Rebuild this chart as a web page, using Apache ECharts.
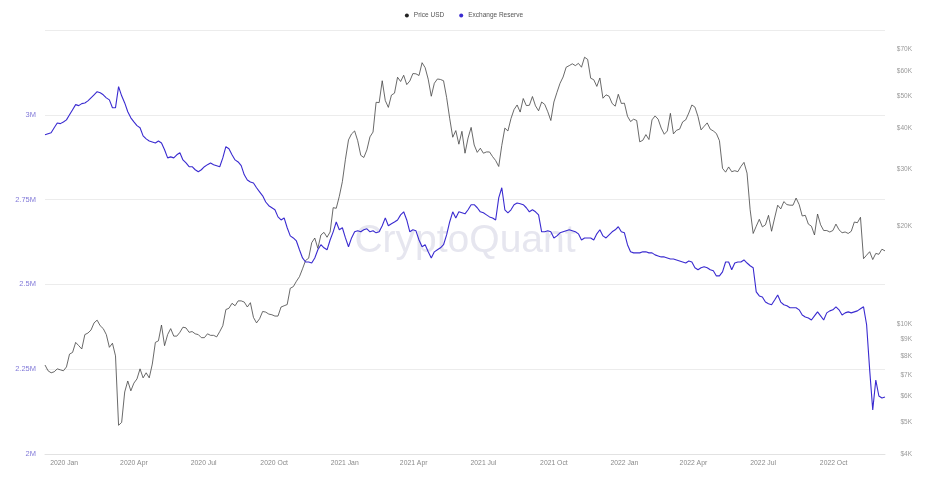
<!DOCTYPE html>
<html><head><meta charset="utf-8">
<script src="https://cdn.jsdelivr.net/npm/echarts@6/dist/echarts.min.js"></script>
<style>html,body{margin:0;padding:0;background:#fff}#c{width:928px;height:487px}</style>
</head><body><div id="c"></div>
<script>
// sampling: one value every 4 days starting 2019-12-07
const startDate = Date.UTC(2019, 11, 7);
const stepDays = 4;

// BTC price, thousands of USD
const priceUSDk = [
7.5,7.2,7.1,7.15,7.3,7.25,7.2,7.4,8.1,8.2,8.8,8.6,8.4,9.3,9.4,9.6,10.1,10.3,9.9,9.7,
9.3,8.5,8.75,8.0,4.9,5.0,6.2,6.7,6.25,6.6,6.8,7.3,6.85,7.1,6.85,7.55,8.8,8.9,9.95,8.6,
9.3,9.7,9.2,9.2,9.45,9.8,9.75,9.45,9.5,9.35,9.3,9.1,9.1,9.35,9.25,9.25,9.15,9.5,9.9,11.1,
11.2,11.6,11.4,11.8,11.8,11.7,11.3,11.65,10.5,10.1,10.4,10.95,10.9,10.75,10.7,10.6,10.6,11.3,11.4,11.5,
12.9,13.05,13.55,14.0,14.8,15.7,15.95,17.8,18.4,17.1,18.8,19.15,18.5,19.2,22.8,22.7,24.7,27.4,32.1,36.8,
38.4,39.2,36.6,33.0,32.5,34.3,37.6,38.9,48.0,47.9,55.9,48.6,46.3,50.5,51.2,57.3,55.6,58.1,54.4,55.8,
58.8,58.7,58.0,63.5,61.3,56.5,50.1,54.9,56.6,56.4,55.9,49.7,42.9,37.5,39.3,35.7,39.1,33.5,37.3,40.2,
35.5,33.7,34.7,33.5,33.8,33.8,32.7,31.8,30.5,35.4,40.0,39.2,42.8,45.6,47.1,44.8,49.3,46.9,47.0,50.0,
46.8,45.2,48.1,47.3,44.9,42.2,48.1,51.5,54.9,57.4,61.5,62.2,63.0,62.2,63.2,61.5,66.0,65.0,56.9,56.3,
53.7,57.0,49.4,50.6,50.1,47.6,46.7,50.8,47.6,47.7,43.5,41.9,42.6,42.2,36.3,36.7,38.2,36.9,42.4,43.6,
42.6,40.0,38.3,39.2,44.4,38.4,39.4,39.7,41.8,42.4,44.5,47.1,46.4,43.4,39.5,40.5,41.5,39.7,39.2,38.5,
36.6,30.1,29.3,30.4,29.4,29.6,29.4,30.5,31.4,29.1,22.5,19.0,20.0,21.0,19.9,20.2,21.6,19.3,21.2,23.2,
22.6,23.8,23.3,23.2,23.2,24.4,23.3,21.5,21.6,20.3,20.0,18.8,21.8,20.2,19.4,19.4,19.2,19.4,20.3,19.5,
19.1,19.2,19.0,19.3,20.6,20.5,21.3,15.9,16.3,16.7,15.8,16.5,16.4,17.0,16.8
];

// Exchange reserve, thousands of BTC
const reserveKBTC = [
2941,2944,2947,2962,2976,2974,2979,2985,3000,3015,3030,3027,3033,3035,3041,3050,3059,3068,3065,3059,
3050,3044,3021,3021,3083,3056,3035,3009,2991,2979,2968,2962,2938,2929,2923,2920,2917,2923,2917,2897,
2873,2876,2873,2882,2888,2867,2858,2847,2847,2838,2832,2838,2847,2853,2858,2853,2850,2847,2873,2906,
2900,2882,2867,2861,2850,2823,2808,2802,2799,2785,2773,2761,2743,2732,2726,2720,2699,2690,2696,2667,
2643,2637,2628,2602,2578,2566,2566,2563,2578,2602,2617,2608,2602,2631,2655,2684,2661,2667,2637,2611,
2637,2655,2658,2655,2661,2664,2655,2658,2652,2655,2673,2696,2673,2679,2684,2690,2705,2714,2690,2655,
2661,2658,2631,2611,2617,2596,2578,2596,2602,2608,2617,2646,2684,2714,2696,2714,2711,2708,2720,2735,
2735,2726,2714,2711,2705,2699,2696,2690,2755,2785,2720,2711,2720,2735,2740,2738,2735,2726,2714,2720,
2714,2705,2655,2655,2658,2655,2637,2643,2652,2655,2658,2661,2658,2655,2649,2631,2637,2637,2637,2631,
2649,2661,2643,2637,2646,2655,2661,2670,2655,2652,2617,2596,2593,2593,2593,2596,2596,2593,2593,2587,
2584,2581,2581,2578,2575,2575,2572,2569,2566,2563,2569,2566,2549,2543,2549,2552,2549,2543,2540,2525,
2525,2537,2566,2566,2543,2563,2566,2566,2572,2563,2555,2549,2478,2466,2463,2448,2443,2440,2454,2469,
2448,2440,2437,2431,2431,2431,2425,2410,2404,2401,2395,2407,2419,2407,2395,2416,2422,2425,2434,2425,
2410,2416,2419,2416,2419,2422,2428,2434,2381,2248,2130,2218,2171,2165,2168
];

const quarterTicks = ['2020-01-01','2020-04-01','2020-07-01','2020-10-01','2021-01-01','2021-04-01',
  '2021-07-01','2021-10-01','2022-01-01','2022-04-01','2022-07-01','2022-10-01'];
const priceTicks = [4000,5000,6000,7000,8000,9000,10000,20000,30000,40000,50000,60000,70000];
const monthNames = ['Jan','Feb','Mar','Apr','May','Jun','Jul','Aug','Sep','Oct','Nov','Dec'];

const DAY = 86400000;
const tAt = i => startDate + i * stepDays * DAY;
const priceData = priceUSDk.map((v, i) => [tAt(i), v * 1000]);
const reserveData = reserveKBTC.map((v, i) => [tAt(i), v]);
const tickTimes = quarterTicks.map(s => Date.parse(s + 'T00:00:00Z'));

const FONT = 'Liberation Sans, Arial, Helvetica, sans-serif';
const chart = echarts.init(document.getElementById('c'), null, {renderer: 'canvas'});
chart.setOption({
  animation: false,
  backgroundColor: '#fff',
  textStyle: {fontFamily: FONT},
  legend: {
    top: 7, left: 'center', icon: 'circle', itemWidth: 4, itemHeight: 4, itemGap: 15,
    textStyle: {fontSize: 6.5, color: '#555', fontFamily: FONT},
    data: [{name: 'Price USD', itemStyle: {color: '#222'}}, {name: 'Exchange Reserve', itemStyle: {color: '#3a2bd0'}}]
  },
  graphic: [{
    type: 'text', x: 465, y: 241, z: -10, silent: true,
    style: {text: 'CryptoQuant', fontSize: 39, fontFamily: FONT, fill: '#e6e6ef', align: 'center', verticalAlign: 'middle'}
  }],
  grid: {left: 45, right: 43, top: 30, bottom: 33, containLabel: false},
  xAxis: {
    type: 'value', min: tAt(0), max: tAt(priceUSDk.length - 1),
    axisLine: {show: true, lineStyle: {color: '#e2e2e2'}},
    axisTick: {show: false},
    splitLine: {show: false},
    axisLabel: {
      customValues: tickTimes, color: '#8a8a8a', fontSize: 6.8, margin: 6, fontFamily: FONT,
      formatter: v => { const d = new Date(v); return d.getUTCFullYear() + ' ' + monthNames[d.getUTCMonth()]; }
    }
  },
  yAxis: [{
    type: 'value', position: 'left', min: 2000, max: 3250, interval: 250,
    axisLine: {show: false}, axisTick: {show: false},
    splitLine: {show: true, lineStyle: {color: '#ececec', width: 1}},
    axisLabel: {color: '#8179d8', fontSize: 7.5, margin: 9, fontFamily: FONT,
      formatter: v => v >= 3250 ? '' : (v / 1000) + 'M'}
  }, {
    type: 'log', position: 'right', logBase: 10, min: 4000, max: 80000,
    axisLine: {show: false}, axisTick: {show: false}, splitLine: {show: false},
    axisLabel: {customValues: priceTicks, color: '#9a9a9a', fontSize: 6.5, margin: 27, align: 'right', fontFamily: FONT,
      formatter: v => '$' + Math.round(v / 1000) + 'K'}
  }],
  series: [{
    name: 'Price USD', type: 'line', yAxisIndex: 1, data: priceData,
    showSymbol: false, symbol: 'none', lineStyle: {color: '#444', width: 0.8}, itemStyle: {color: '#222'}, z: 2
  }, {
    name: 'Exchange Reserve', type: 'line', yAxisIndex: 0, data: reserveData,
    showSymbol: false, symbol: 'none', lineStyle: {color: '#3a2bd0', width: 1.1}, itemStyle: {color: '#3a2bd0'}, z: 3
  }]
});
</script>
</body></html>
